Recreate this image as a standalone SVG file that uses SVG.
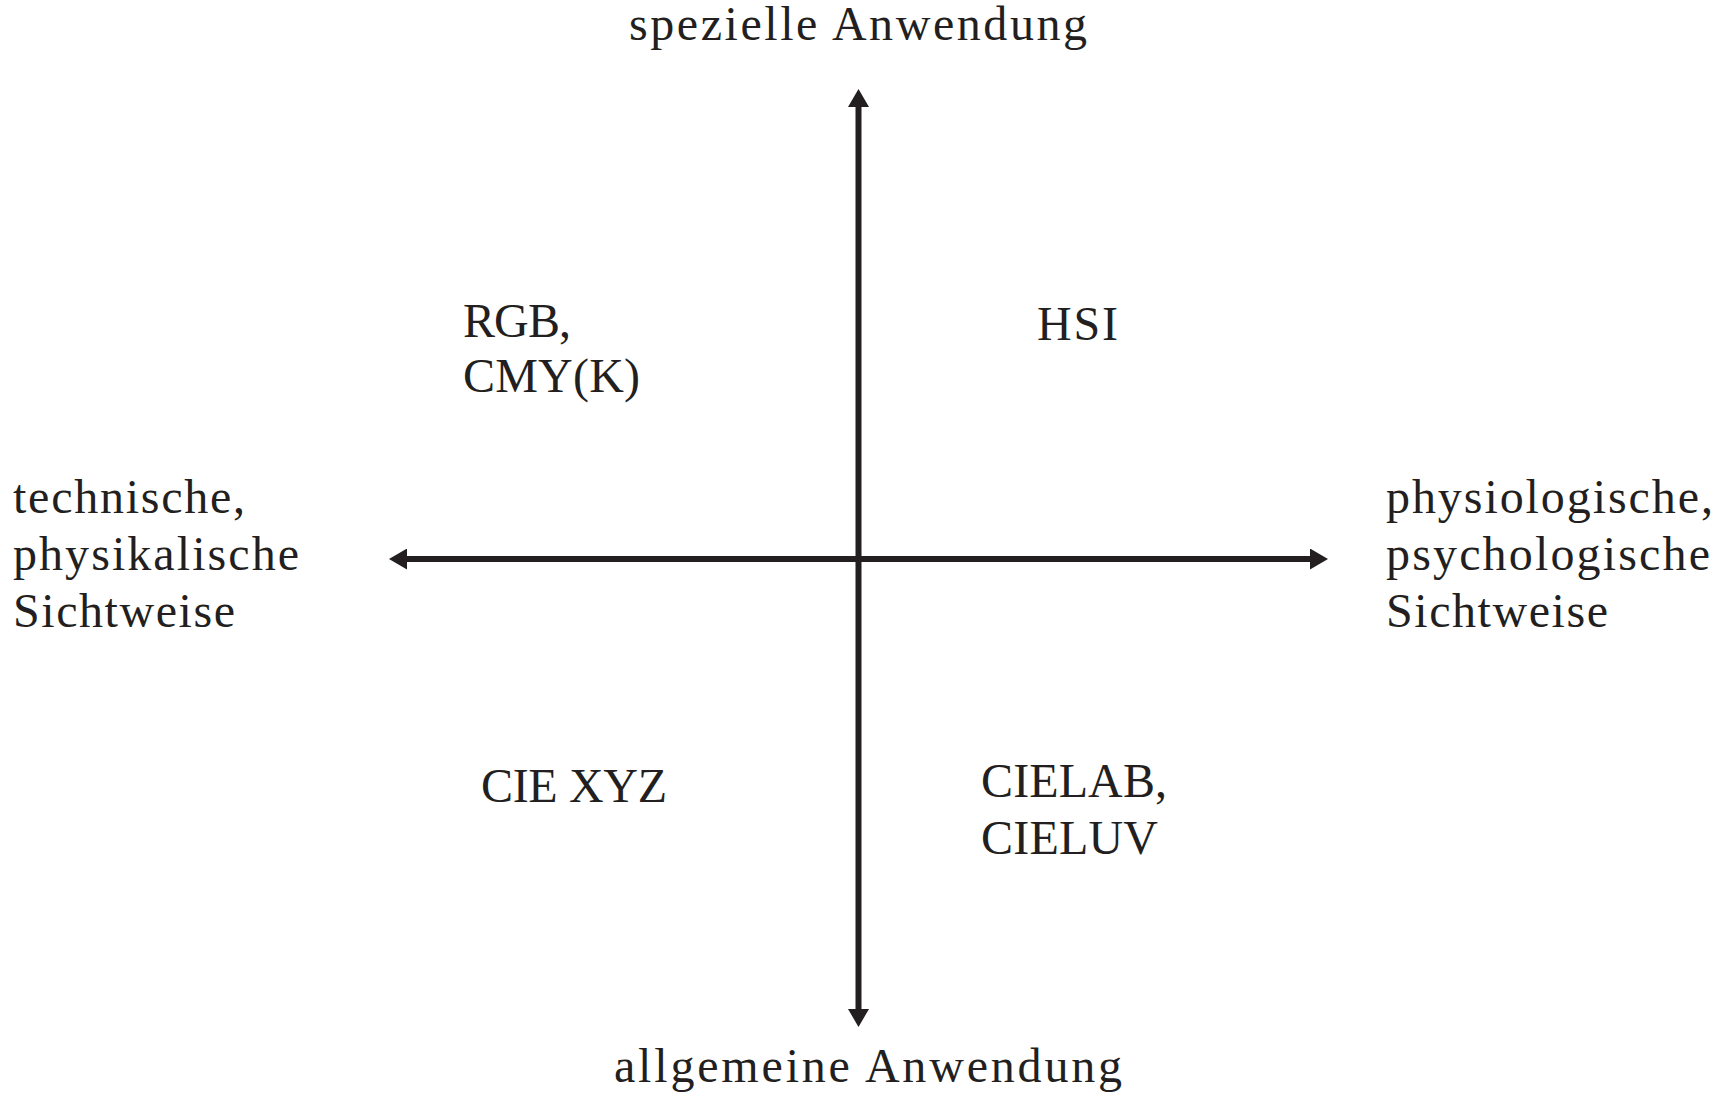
<svg xmlns="http://www.w3.org/2000/svg" width="1735" height="1099" viewBox="0 0 1735 1099">
<style>
  text { font-family: "Liberation Serif", "Times New Roman", serif; font-size: 48px; fill: #231f20; }
  .axis { stroke: #231f20; stroke-width: 6; fill: none; }
</style>
<defs>
  <marker id="arrow" viewBox="0 0 18 21" refX="0" refY="10.5" markerWidth="18" markerHeight="21" markerUnits="userSpaceOnUse" orient="auto-start-reverse">
    <path d="M0,0 L18,10.5 L0,21 Z" fill="#231f20"/>
  </marker>
</defs>
<rect width="1735" height="1099" fill="#ffffff"/>
<g id="connectors">
  <line class="axis" x1="858.5" y1="107" x2="858.5" y2="1009" marker-start="url(#arrow)" marker-end="url(#arrow)"/>
  <line class="axis" x1="407" y1="559" x2="1310" y2="559" marker-start="url(#arrow)" marker-end="url(#arrow)"/>
</g>
<g id="top-label">
  <text x="858" y="40" text-anchor="middle" textLength="458" lengthAdjust="spacing">spezielle Anwendung</text>
</g>
<g id="bottom-label">
  <text x="614" y="1082" textLength="508" lengthAdjust="spacing">allgemeine Anwendung</text>
</g>
<g id="left-label">
  <text x="13" y="513" textLength="232" lengthAdjust="spacing">technische,</text>
  <text x="13" y="570" textLength="286" lengthAdjust="spacing">physikalische</text>
  <text x="13" y="627" textLength="222" lengthAdjust="spacing">Sichtweise</text>
</g>
<g id="right-label">
  <text x="1386" y="513" textLength="327" lengthAdjust="spacing">physiologische,</text>
  <text x="1386" y="570" textLength="324" lengthAdjust="spacing">psychologische</text>
  <text x="1386" y="627" textLength="222" lengthAdjust="spacing">Sichtweise</text>
</g>
<g id="rgb-cmyk">
  <text x="463" y="337" textLength="108" lengthAdjust="spacing">RGB,</text>
  <text x="463" y="392" textLength="177" lengthAdjust="spacing">CMY(K)</text>
</g>
<g id="hsi">
  <text x="1037" y="340" textLength="81" lengthAdjust="spacing">HSI</text>
</g>
<g id="cie-xyz">
  <text x="481" y="802" textLength="186" lengthAdjust="spacing">CIE XYZ</text>
</g>
<g id="cielab-cieluv">
  <text x="981" y="797" textLength="186" lengthAdjust="spacing">CIELAB,</text>
  <text x="981" y="854" textLength="177" lengthAdjust="spacing">CIELUV</text>
</g>
</svg>
